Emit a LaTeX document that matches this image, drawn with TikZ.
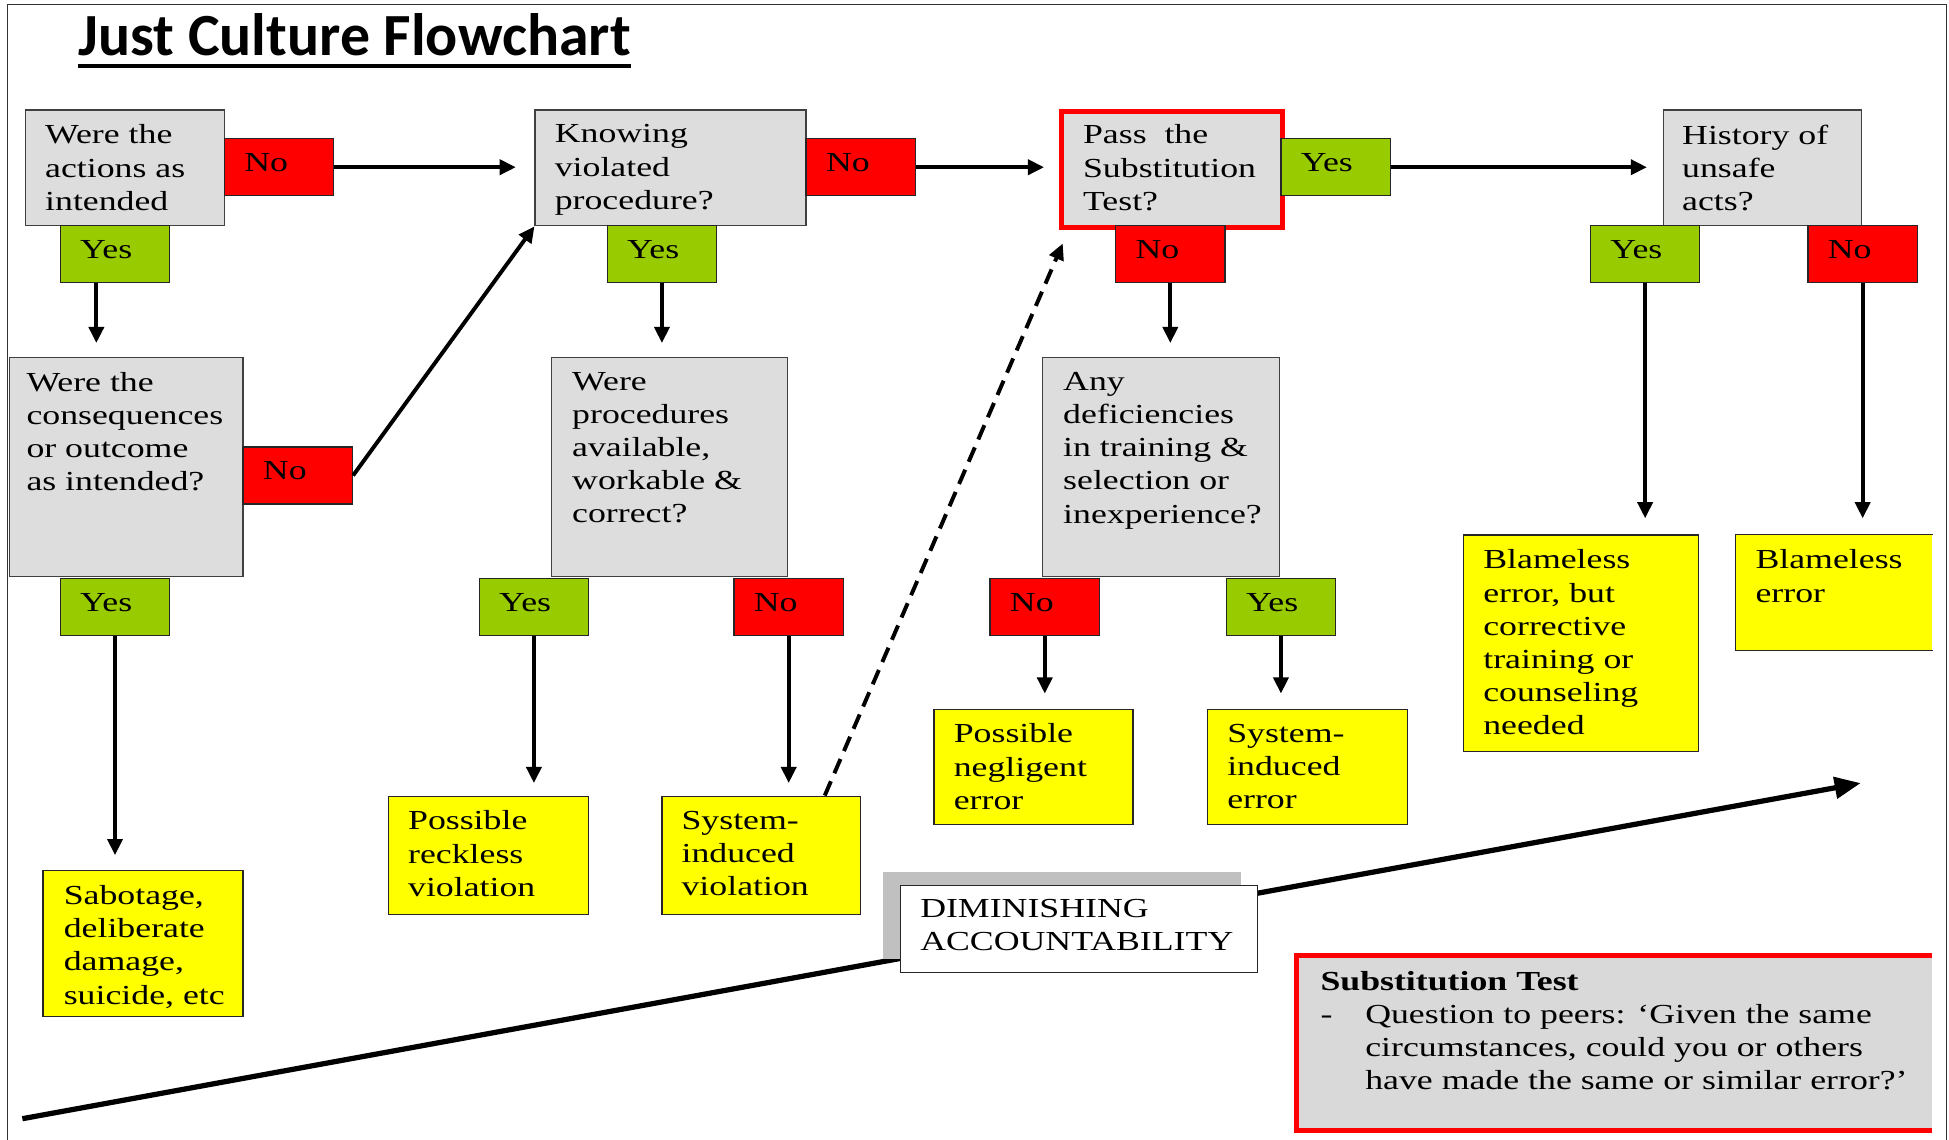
\documentclass[tikz,border=0pt]{standalone}
\usepackage{fontspec}
\setmainfont{Liberation Serif}
\newfontfamily\boxfont{Liberation Serif}[FakeStretch=1.3]
\newfontfamily\titlefont{Carlito}
\usetikzlibrary{arrows.meta}

\definecolor{qgray}{RGB}{221,221,221}
\definecolor{testgray}{RGB}{217,217,217}
\definecolor{shadowgray}{RGB}{192,192,192}
\definecolor{nored}{RGB}{255,0,0}
\definecolor{yesgreen}{RGB}{153,204,0}
\definecolor{outyellow}{RGB}{255,255,0}

\newcommand{\pxu}{0.02cm}
\newcommand{\boxsize}{\boxfont\fontsize{12.6}{15.2}\selectfont}

\tikzset{
  qbox/.style={draw=black!75, line width=0.6pt, fill=qgray, anchor=north west, inner sep=0pt},
  outbox/.style={draw=black!85, line width=0.6pt, fill=outyellow, anchor=north west, inner sep=0pt},
  boxtext/.style={font=\boxsize, align=left, anchor=north west, inner xsep=16*\pxu, inner ysep=12*\pxu},
  answer/.style={draw=black!85, line width=0.6pt, anchor=north west,
    minimum width=88*\pxu, minimum height=46*\pxu, text width=56*\pxu,
    inner xsep=16*\pxu, inner ysep=0pt, align=left, font=\boxsize,
    text height=9pt, text depth=5pt},
  yesbox/.style={answer, fill=yesgreen},
  nobox/.style={answer, fill=nored},
  arr/.style={line width=1.8pt, -{Triangle[length=0.26cm, width=0.24cm]}},
  dasharr/.style={arr, dash pattern=on 0.25cm off 0.14cm},
  bigarr/.style={line width=2.4pt, -{Triangle[length=0.42cm, width=0.34cm]}}
}

\begin{document}
\begin{tikzpicture}[x=0.02cm, y=-0.02cm]
\useasboundingbox (0,0) rectangle (1568,917);

% Frame and title
\draw[black!80, line width=0.6pt] (6,917) -- (6,3.5) -- (1566,3.5) -- (1566,917);
\node[font=\titlefont\bfseries\fontsize{27.4}{30}\selectfont, anchor=base west, inner sep=0pt] (title) at (63,45) {Just Culture Flowchart};
\draw[line width=1.8pt] ([yshift=-4.7pt]title.base west) -- ([yshift=-4.7pt]title.base east);

% Accountability arrow (behind the label)
\coordinate (lowend) at (18,900);
\coordinate (highend) at (1497,630);
\draw[bigarr] (lowend) -- (highend);

% Column 1
\node[qbox, minimum width=160*\pxu, minimum height=93*\pxu] (q1) at (20,88) {};
\node[boxtext] (q1t) at (q1.north west) {Were the\\actions as\\intended};
\node[nobox] (n1) at (180,111) {No};
\node[yesbox] (y1) at (48,181) {Yes};
\node[qbox, minimum width=188*\pxu, minimum height=176*\pxu] (q4) at (7,287) {};
\node[boxtext, inner xsep=14*\pxu] (q4t) at (q4.north west) {Were the\\consequences\\or outcome\\as intended?};
\node[nobox] (n4) at (195,359) {No};
\node[yesbox] (y4) at (48,465) {Yes};
\node[outbox, minimum width=161*\pxu, minimum height=117*\pxu] (o1) at (34,700) {};
\node[boxtext, inner xsep=17*\pxu] (o1t) at (o1.north west) {Sabotage,\\deliberate\\damage,\\suicide, etc};

% Column 2
\node[qbox, minimum width=218*\pxu, minimum height=93*\pxu] (q2) at (430,88) {};
\node[boxtext] (q2t) at (q2.north west) {Knowing\\violated\\procedure?};
\node[nobox] (n2) at (648,111) {No};
\node[yesbox] (y2) at (488,181) {Yes};
\node[qbox, minimum width=190*\pxu, minimum height=176*\pxu] (q5) at (443,287) {};
\node[boxtext, inner xsep=17*\pxu] (q5t) at (q5.north west) {Were\\procedures\\available,\\workable \&\\correct?};
\node[yesbox] (y5) at (385,465) {Yes};
\node[nobox] (n5) at (590,465) {No};
\node[outbox, minimum width=161*\pxu, minimum height=95*\pxu] (o2) at (312,640) {};
\node[boxtext] (o2t) at (o2.north west) {Possible\\reckless\\violation};
\node[outbox, minimum width=160*\pxu, minimum height=95*\pxu] (o3) at (532,640) {};
\node[boxtext] (o3t) at (o3.north west) {System-\\induced\\violation};

% Column 3
\node[qbox, draw=nored, line width=2.2pt, minimum width=178*\pxu, minimum height=93*\pxu] (q3) at (852,88) {};
\node[boxtext, inner xsep=19*\pxu] (q3t) at (q3.north west) {Pass~~the\\Substitution\\Test?};
\node[yesbox] (y3) at (1030,111) {Yes};
\node[nobox] (n3) at (897,181) {No};
\node[qbox, minimum width=191*\pxu, minimum height=176*\pxu] (q6) at (838,287) {};
\node[boxtext, inner xsep=17*\pxu] (q6t) at (q6.north west) {Any\\deficiencies\\in training \&\\selection or\\inexperience?};
\node[nobox] (n6) at (796,465) {No};
\node[yesbox] (y6) at (986,465) {Yes};
\node[outbox, minimum width=160*\pxu, minimum height=93*\pxu] (o4) at (751,570) {};
\node[boxtext] (o4t) at (o4.north west) {Possible\\negligent\\error};
\node[outbox, minimum width=161*\pxu, minimum height=93*\pxu] (o5) at (971,570) {};
\node[boxtext] (o5t) at (o5.north west) {System-\\induced\\error};

% Column 4
\node[qbox, minimum width=159*\pxu, minimum height=93*\pxu] (q7) at (1338,88) {};
\node[boxtext, inner xsep=15*\pxu] (q7t) at (q7.north west) {History of\\unsafe\\acts?};
\node[yesbox] (y7) at (1279,181) {Yes};
\node[nobox] (n7) at (1454,181) {No};
\node[outbox, minimum width=189*\pxu, minimum height=174*\pxu] (o6) at (1177,430) {};
\node[boxtext] (o6t) at (o6.north west) {Blameless\\error, but\\corrective\\training or\\counseling\\needed};
\node[outbox, draw=none, minimum width=158*\pxu, minimum height=92*\pxu] (o7) at (1396,430) {};
\draw[black!85, line width=0.6pt] (o7.north east) -- (o7.north west) -- (o7.south west) -- (o7.south east);
\node[boxtext] (o7t) at (o7.north west) {Blameless\\error};

% Connectors
\draw[arr] (n1.east) -- ([xshift=-15*\pxu]n1.east -| q2.west);
\draw[arr] ([xshift=-15*\pxu]y1.south) -- ([xshift=-15*\pxu, yshift=11*\pxu]y1.south |- q4.north);
\draw[arr] (n4.east) -- (q2.south west);
\draw[arr] (y4.south) -- ([yshift=12*\pxu]y4.south |- o1.north);
\draw[arr] (n2.east) -- ([xshift=-12*\pxu]n2.east -| q3.west);
\draw[arr] (y2.south) -- ([yshift=11*\pxu]y2.south |- q5.north);
\draw[arr] (y5.south) -- ([yshift=10*\pxu]y5.south |- o2.north);
\draw[arr] (n5.south) -- ([yshift=10*\pxu]n5.south |- o3.north);
\draw[dasharr] ([xshift=51*\pxu]o3.north) -- ([xshift=3*\pxu, yshift=-11*\pxu]q3.south west);
\draw[arr] (y3.east) -- ([xshift=-13*\pxu]y3.east -| q7.west);
\draw[arr] (n3.south) -- ([yshift=11*\pxu]n3.south |- q6.north);
\draw[arr] (n6.south) -- ([yshift=12*\pxu]n6.south |- o4.north);
\draw[arr] (y6.south) -- ([yshift=12*\pxu]y6.south |- o5.north);
\draw[arr] (y7.south) -- ([yshift=13*\pxu]y7.south |- o6.north);
\draw[arr] (n7.south) -- ([yshift=13*\pxu]n7.south |- o7.north);

% Accountability label
\node[fill=shadowgray, anchor=north west, inner sep=0pt, minimum width=288*\pxu, minimum height=70*\pxu] (dimshade) at (710,701) {};
\node[draw=black!85, line width=0.6pt, fill=white, anchor=north west, inner sep=0pt, minimum width=287*\pxu, minimum height=70*\pxu] (dim) at (724,712) {};
\node[boxtext, inner xsep=16*\pxu, inner ysep=11*\pxu] (dimt) at (dim.north west) {DIMINISHING\\ACCOUNTABILITY};

% Substitution test note
\node[fill=testgray, anchor=north west, inner sep=0pt, minimum width=511*\pxu, minimum height=140*\pxu] (sub) at (1043,769) {};
\draw[nored, line width=2.4pt] (sub.north east) -- (sub.north west) -- (sub.south west) -- (sub.south east);
\node[boxtext, inner xsep=19*\pxu] (subt) at (sub.north west) {\textbf{Substitution Test}\\
\makebox[20.5pt][l]{-}Question to peers: ‘Given the same\\
\hspace*{20.5pt}circumstances, could you or others\\
\hspace*{20.5pt}have made the same or similar error?’};

\end{tikzpicture}
\end{document}
